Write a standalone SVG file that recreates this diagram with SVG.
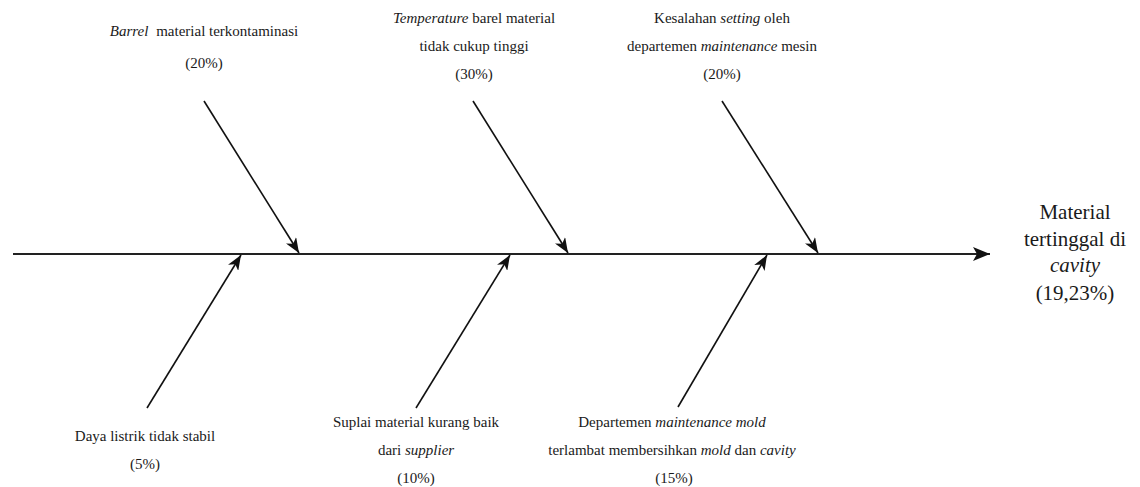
<svg xmlns="http://www.w3.org/2000/svg" width="1140" height="487" viewBox="0 0 1140 487" font-family="'Liberation Serif', 'Times New Roman', serif">
<style>
  text { font-family: "Liberation Serif", "Times New Roman", serif; }
  .t { font-size: 15px; fill: #1a1a1a; text-anchor: middle; }
  .big { font-size: 21px; }
  .i { font-style: italic; }
  .bone { stroke: #111; stroke-width: 1.6; fill: none; }
  .spine { stroke: #222; stroke-width: 2.2; fill: none; }
</style>
<defs>
  <marker id="ah" markerUnits="userSpaceOnUse" markerWidth="16" markerHeight="12" refX="15" refY="6" orient="auto" viewBox="0 0 16 12">
    <path d="M0,0 L15,6 L0,12 L4,6 z" fill="#111"/>
  </marker>
  <marker id="ahb" markerUnits="userSpaceOnUse" markerWidth="18" markerHeight="14" refX="17" refY="7" orient="auto" viewBox="0 0 18 14">
    <path d="M0,0 L17,7 L0,14 L4,7 z" fill="#111"/>
  </marker>
</defs>
<rect width="1140" height="487" fill="#ffffff"/>
<g id="connectors">
  <line class="spine" x1="13" y1="254" x2="990" y2="254" marker-end="url(#ahb)"/>
  <line class="bone" x1="204" y1="101" x2="299" y2="253" marker-end="url(#ah)"/>
  <line class="bone" x1="473" y1="101" x2="568" y2="253" marker-end="url(#ah)"/>
  <line class="bone" x1="722" y1="101" x2="818" y2="253" marker-end="url(#ah)"/>
  <line class="bone" x1="147" y1="408" x2="241" y2="255" marker-end="url(#ah)"/>
  <line class="bone" x1="416" y1="408" x2="510" y2="255" marker-end="url(#ah)"/>
  <line class="bone" x1="678" y1="407" x2="767" y2="255" marker-end="url(#ah)"/>
</g>
<g id="effect" font-family="'Liberation Serif', serif">
  <text class="t big" x="1075" y="219" font-family="Liberation Serif, serif">Material</text>
  <text class="t big" x="1075" y="246" font-family="Liberation Serif, serif">tertinggal di</text>
  <text class="t big i" x="1075" y="272" font-family="Liberation Serif, serif">cavity</text>
  <text class="t big" x="1075" y="300" font-family="Liberation Serif, serif">(19,23%)</text>
</g>
<g id="cause-barrel">
  <text class="t" x="204" y="36" font-family="Liberation Serif, serif"><tspan class="i">Barrel</tspan><tspan dx="4"> material terkontaminasi</tspan></text>
  <text class="t" x="204" y="68" font-family="Liberation Serif, serif">(20%)</text>
</g>
<g id="cause-temperature">
  <text class="t" x="474" y="23" font-family="Liberation Serif, serif"><tspan class="i">Temperature</tspan> barel material</text>
  <text class="t" x="474" y="51" font-family="Liberation Serif, serif">tidak cukup tinggi</text>
  <text class="t" x="474" y="79" font-family="Liberation Serif, serif">(30%)</text>
</g>
<g id="cause-setting">
  <text class="t" x="722" y="23" font-family="Liberation Serif, serif">Kesalahan <tspan class="i">setting</tspan> oleh</text>
  <text class="t" x="722" y="51" font-family="Liberation Serif, serif">departemen <tspan class="i">maintenance</tspan> mesin</text>
  <text class="t" x="722" y="79" font-family="Liberation Serif, serif">(20%)</text>
</g>
<g id="cause-listrik">
  <text class="t" x="145" y="441" font-family="Liberation Serif, serif">Daya listrik tidak stabil</text>
  <text class="t" x="145" y="469" font-family="Liberation Serif, serif">(5%)</text>
</g>
<g id="cause-suplai">
  <text class="t" x="416" y="427" font-family="Liberation Serif, serif">Suplai material kurang baik</text>
  <text class="t" x="416" y="455" font-family="Liberation Serif, serif">dari <tspan class="i">supplier</tspan></text>
  <text class="t" x="416" y="483" font-family="Liberation Serif, serif">(10%)</text>
</g>
<g id="cause-mold">
  <text class="t" x="672" y="427" font-family="Liberation Serif, serif">Departemen <tspan class="i">maintenance mold</tspan></text>
  <text class="t" x="672" y="455" font-family="Liberation Serif, serif">terlambat membersihkan <tspan class="i">mold</tspan> dan <tspan class="i">cavity</tspan></text>
  <text class="t" x="674" y="483" font-family="Liberation Serif, serif">(15%)</text>
</g>
</svg>
